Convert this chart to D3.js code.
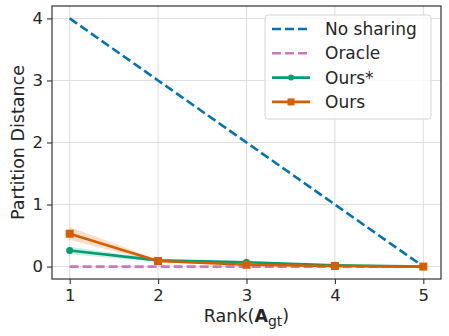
<!DOCTYPE html>
<html>
<head>
<meta charset="utf-8">
<script src="https://cdn.jsdelivr.net/npm/d3@7"></script>
<style>
  body { margin: 0; background: #fff; }
  text { font-family: "DejaVu Sans", sans-serif; fill: #262626; }
</style>
</head>
<body>
<svg id="chart"></svg>
<script>
    // data
    let ranks = [1, 2, 3, 4, 5];
    let noSharing = [4, 3, 2, 1, 0];
    let oracle = [0, 0, 0, 0, 0];
    let oursStar = [0.26, 0.10, 0.07, 0.02, 0.0];
    let oursStarLo = [0.20, 0.08, 0.05, 0.01, 0.0];
    let oursStarHi = [0.32, 0.12, 0.09, 0.03, 0.0];
    let ours = [0.53, 0.09, 0.03, 0.01, 0.0];
    let oursLo = [0.43, 0.07, 0.02, 0.0, 0.0];
    let oursHi = [0.64, 0.11, 0.04, 0.02, 0.0];
    let xTicks = [1, 2, 3, 4, 5];
    let yTicks = [0, 1, 2, 3, 4];

    let W = 449, H = 336;
    let margin = { top: 6, right: 8, bottom: 57, left: 52 };
    let width = W - margin.left - margin.right,
        height = H - margin.top - margin.bottom;

    let svg = d3.select("#chart").attr("width", W).attr("height", H);
    let g = svg.append("g").attr("transform", "translate(" + margin.left + "," + margin.top + ")");

    let x = d3.scaleLinear().domain([0.8, 5.2]).range([0, width]);
    let y = d3.scaleLinear().domain([-0.2, 4.2]).range([height, 0]);

    // grid
    g.append("g").selectAll("line").data(xTicks).enter().append("line")
        .attr("x1", d => x(d)).attr("x2", d => x(d))
        .attr("y1", 0).attr("y2", height)
        .attr("stroke", "#dcdcdc").attr("stroke-width", 1);
    g.append("g").selectAll("line").data(yTicks).enter().append("line")
        .attr("y1", d => y(d)).attr("y2", d => y(d))
        .attr("x1", 0).attr("x2", width)
        .attr("stroke", "#dcdcdc").attr("stroke-width", 1);

    let line = d3.line().x((d, i) => x(ranks[i])).y(d => y(d));
    let area = (lo, hi) => d3.area()
        .x((d, i) => x(ranks[i]))
        .y0((d, i) => y(lo[i]))
        .y1((d, i) => y(hi[i]))(ranks);

    let c = { blue: "#0173b2", pink: "#cc78bc", green: "#029e73", orange: "#d55e00" };

    // bands
    g.append("path").attr("d", area(oursStarLo, oursStarHi)).attr("fill", c.green).attr("opacity", 0.2);
    g.append("path").attr("d", area(oursLo, oursHi)).attr("fill", c.orange).attr("opacity", 0.2);

    // lines
    g.append("path").datum(noSharing).attr("d", line).attr("fill", "none")
        .attr("stroke", c.blue).attr("stroke-width", 2.6).attr("stroke-dasharray", "9,4");
    g.append("path").datum(oracle).attr("d", line).attr("fill", "none")
        .attr("stroke", c.pink).attr("stroke-width", 2.6).attr("stroke-dasharray", "9,4");
    g.append("path").datum(oursStar).attr("d", line).attr("fill", "none")
        .attr("stroke", c.green).attr("stroke-width", 2.6);
    g.selectAll(".dotStar").data(oursStar).enter().append("circle")
        .attr("cx", (d, i) => x(ranks[i])).attr("cy", d => y(d))
        .attr("r", 3.5).attr("fill", c.green);
    g.append("path").datum(ours).attr("d", line).attr("fill", "none")
        .attr("stroke", c.orange).attr("stroke-width", 2.6);
    g.selectAll(".sq").data(ours).enter().append("rect")
        .attr("x", (d, i) => x(ranks[i]) - 4).attr("y", d => y(d) - 4)
        .attr("width", 8).attr("height", 8).attr("fill", c.orange);

    // frame
    g.append("rect").attr("width", width).attr("height", height)
        .attr("fill", "none").attr("stroke", "#333").attr("stroke-width", 1.2);

    // axes
    let xAxis = g.append("g").attr("transform", "translate(0," + height + ")")
        .call(d3.axisBottom(x).tickValues(xTicks).tickFormat(d3.format("d")).tickSize(5).tickPadding(5));
    let yAxis = g.append("g")
        .call(d3.axisLeft(y).tickValues(yTicks).tickFormat(d3.format("d")).tickSize(5).tickPadding(4));
    [xAxis, yAxis].forEach(a => {
        a.select(".domain").remove();
        a.selectAll("line").attr("stroke", "#333").attr("stroke-width", 1.1);
        a.selectAll("text").attr("font-size", 16.5).attr("font-family", "DejaVu Sans").attr("fill", "#262626");
    });

    // axis labels
    svg.append("text").attr("transform", "translate(24," + (margin.top + height / 2) + ") rotate(-90)")
        .attr("text-anchor", "middle").attr("font-size", 17.5).text("Partition Distance");
    let xl = svg.append("text").attr("x", margin.left + width / 2).attr("y", 322)
        .attr("text-anchor", "middle").attr("font-size", 17.5);
    xl.append("tspan").text("Rank(");
    xl.append("tspan").attr("font-weight", "bold").text("A");
    xl.append("tspan").attr("font-size", 14).attr("dy", 3.5).text("gt");
    xl.append("tspan").attr("dy", -3.5).text(")");

    // legend
    let legendItems = [
        { name: "No sharing", color: c.blue, dash: "9,4", marker: null },
        { name: "Oracle", color: c.pink, dash: "9,4", marker: null },
        { name: "Ours*", color: c.green, dash: null, marker: "circle" },
        { name: "Ours", color: c.orange, dash: null, marker: "square" }
    ];
    let lg = svg.append("g").attr("transform", "translate(265,15)");
    lg.append("rect").attr("width", 166).attr("height", 104).attr("rx", 3)
        .attr("fill", "#fff").attr("fill-opacity", 0.85).attr("stroke", "#d6d6d6");
    legendItems.forEach((d, i) => {
        let yy = 14 + i * 24.3;
        lg.append("line").attr("x1", 7).attr("x2", 45).attr("y1", yy).attr("y2", yy)
            .attr("stroke", d.color).attr("stroke-width", 2.6)
            .attr("stroke-dasharray", d.dash);
        if (d.marker === "circle") lg.append("circle").attr("cx", 26).attr("cy", yy).attr("r", 3).attr("fill", d.color);
        if (d.marker === "square") lg.append("rect").attr("x", 22.5).attr("y", yy - 3.5).attr("width", 7).attr("height", 7).attr("fill", d.color);
        lg.append("text").attr("x", 60).attr("y", yy + 6).attr("font-size", 17).text(d.name);
    });
</script>
</body>
</html>
